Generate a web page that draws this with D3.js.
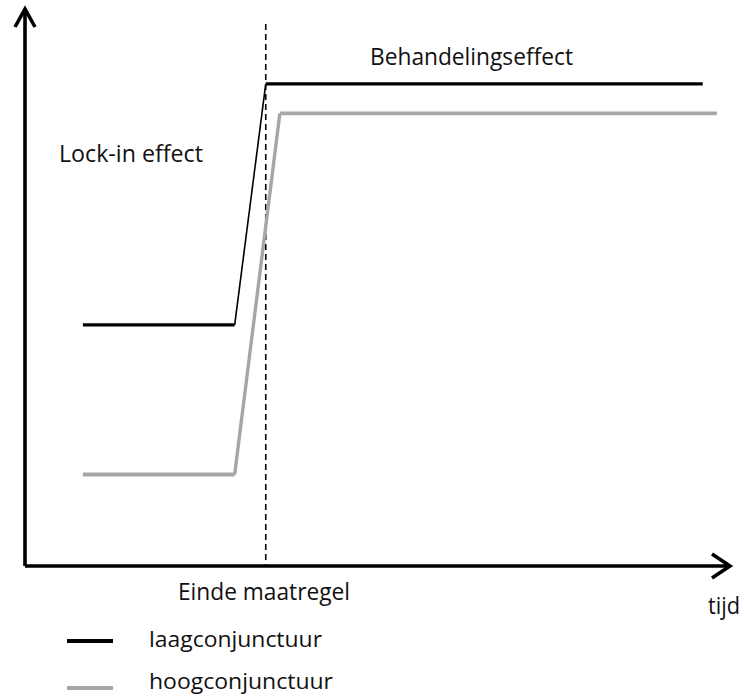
<!DOCTYPE html>
<html>
<head>
<meta charset="utf-8">
<script src="https://cdn.jsdelivr.net/npm/d3@7/dist/d3.min.js"></script>
<style>
  body { margin: 0; background: #fff; }
  svg text { font-family: "Open Sans", sans-serif; fill: #111; }
</style>
</head>
<body>
<svg width="744" height="697"></svg>
<script>
// time points (abstract units) and levels for each series
const lowTimes = [8.2, 29.7, 34.1, 96.0]
const lowValues = [43.2, 43.2, 86.4, 86.4]
const highTimes = [8.2, 29.7, 36.1, 98.0]
const highValues = [16.4, 16.4, 81.1, 81.1]
const endOfMeasure = 34.1

const seriesNames = ["laagconjunctuur", "hoogconjunctuur"]

const svg = d3.select("svg")

// axis origin at (25,566), arrows end at the top / right
const x = d3.scaleLinear().domain([0, 100]).range([25, 731])
const y = d3.scaleLinear().domain([0, 100]).range([566, 8])

const series = [
  {name: seriesNames[0], times: lowTimes, values: lowValues, colour: "#000", width: 3.2, slant: 1.6},
  {name: seriesNames[1], times: highTimes, values: highValues, colour: "#a6a6a6", width: 3.8, slant: 3.4}
]

//dashed line at end of measure
svg.append("line")
  .attr("x1", x(endOfMeasure)).attr("x2", x(endOfMeasure))
  .attr("y1", 24).attr("y2", y(0))
  .attr("stroke", "#000")
  .attr("stroke-width", 1.6)
  .attr("stroke-dasharray", "6,4")

//series drawn segment by segment (rise is thinner)
series.forEach(s => {
  const pts = s.times.map((t, i) => [x(t), y(s.values[i])])
  const segs = d3.pairs(pts)
  svg.append("g").selectAll("line")
    .data(segs).enter()
    .append("line")
    .attr("x1", d => d[0][0]).attr("y1", d => d[0][1])
    .attr("x2", d => d[1][0]).attr("y2", d => d[1][1])
    .attr("stroke", s.colour)
    .attr("stroke-width", d => d[0][1] == d[1][1] ? s.width : s.slant)
    .attr("stroke-linecap", "butt")
})

//axes with arrows
const axes = svg.append("g").attr("fill", "none").attr("stroke", "#000").attr("stroke-width", 3.6)
axes.append("path")
  .attr("d", `M${x(0)},${y(0)}V${y(100) + 2}M${x(0)},${y(0)}H${x(100) - 1}`)
axes.append("path")
  .attr("stroke-linejoin", "miter")
  .attr("d", `M${x(0) - 10},${y(100) + 19}L${x(0)},${y(100) + 1}L${x(0) + 10},${y(100) + 19}`)
axes.append("path")
  .attr("stroke-linejoin", "miter")
  .attr("d", `M${x(100) - 19},${y(0) - 12}L${x(100) - 1},${y(0)}L${x(100) - 19},${y(0) + 12}`)

//labels
const labels = [
  {text: "Lock-in effect", x: 59, y: 162, len: 144, size: 23},
  {text: "Behandelingseffect", x: 370, y: 65, len: 203, size: 23},
  {text: "Einde maatregel", x: 178, y: 600, len: 172, size: 23},
  {text: "tijd", x: 708, y: 614, len: 32, size: 23}
]
svg.append("g").selectAll("text")
  .data(labels).enter()
  .append("text")
  .attr("x", d => d.x).attr("y", d => d.y)
  .attr("font-size", d => d.size)
  .attr("textLength", d => d.len)
  .attr("lengthAdjust", "spacingAndGlyphs")
  .text(d => d.text)

//legend
const legend = svg.append("g")
const legendY = [641, 688]
const legendLen = [173, 184]
legend.selectAll("line")
  .data(series).enter()
  .append("line")
  .attr("x1", 67).attr("x2", 113)
  .attr("y1", (d, i) => legendY[i]).attr("y2", (d, i) => legendY[i])
  .attr("stroke", d => d.colour)
  .attr("stroke-width", 4)
legend.selectAll("text")
  .data(series).enter()
  .append("text")
  .attr("x", 149)
  .attr("y", (d, i) => legendY[i] + (i == 0 ? 6 : 1))
  .attr("font-size", 22)
  .attr("textLength", (d, i) => legendLen[i])
  .attr("lengthAdjust", "spacingAndGlyphs")
  .text(d => d.name)
</script>
</body>
</html>
